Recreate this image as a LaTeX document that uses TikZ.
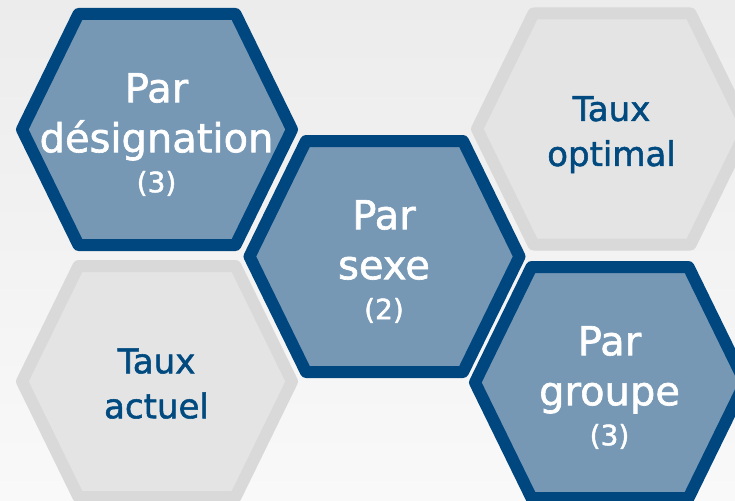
\documentclass[tikz,border=0pt]{standalone}
\usepackage{fontspec}
\setmainfont[FakeBold=1.6,AutoFakeBold=1.6]{DejaVu Sans}
\usetikzlibrary{calc}
\definecolor{hexdark}{RGB}{0,70,127}
\definecolor{hexfill}{RGB}{118,152,181}
\definecolor{greyfill}{RGB}{228,228,228}
\definecolor{greyline}{RGB}{217,217,217}
\definecolor{greyink}{RGB}{0,74,128}
\newcommand{\hexnum}[1]{{\fontsize{28}{30}\selectfont(#1)}}
\tikzset{
    hexagon/.style={insert path={++(-134.5,0) -- ++(56.5,-115.5) -- ++(157,0)
        -- ++(56.5,115.5) -- ++(-56.5,115.5) -- ++(-157,0) -- cycle}},
    hexblue/.style={draw=hexdark, fill=hexfill, line width=12pt, line join=round},
    hexgrey/.style={draw=greyline, fill=greyfill, line width=12pt, line join=round},
    bluelabel/.style={text=white, align=center, inner sep=0pt,
        font=\fontsize{40}{50}\selectfont},
    greylabel/.style={text=greyink, align=center, inner sep=0pt,
        font=\fontsize{34}{45}\selectfont}
}

\begin{document}
\begin{tikzpicture}[x=1pt, y=-1pt]
    \useasboundingbox (0,0) rectangle (735,500);
    \clip (0,0) rectangle (735,500);
    \shade[top color={rgb,255:red,236;green,236;blue,236},
        bottom color={rgb,255:red,249;green,249;blue,249}] (0,0) rectangle (735,500);

    \coordinate (desig) at (156.5,129.5);
    \coordinate (optimal) at (611.5,129);
    \coordinate (sexe) at (384,256.5);
    \coordinate (actuel) at (156.5,381.5);
    \coordinate (groupe) at (609.5,382.5);

    \draw[hexblue] (desig) [hexagon];
    \draw[hexgrey] (optimal) [hexagon];
    \draw[hexblue] (sexe) [hexagon];
    \draw[hexgrey] (actuel) [hexagon];
    \draw[hexblue] (groupe) [hexagon];

    \node[bluelabel] (desiglabel) at ($(desig)+(0,5)$) {Par\\désignation\\[-10pt]\hexnum{3}};
    \node[greylabel] (optimallabel) at ($(optimal)+(0,5.6)$) {Taux\\optimal};
    \node[bluelabel] (sexelabel) at ($(sexe)+(0,5)$) {Par\\sexe\\[-10pt]\hexnum{2}};
    \node[greylabel] (actuellabel) at ($(actuel)+(0,2.1)$) {Taux\\actuel};
    \node[bluelabel] (groupelabel) at ($(groupe)+(0,5)$) {Par\\groupe\\[-10pt]\hexnum{3}};
\end{tikzpicture}
\end{document}
